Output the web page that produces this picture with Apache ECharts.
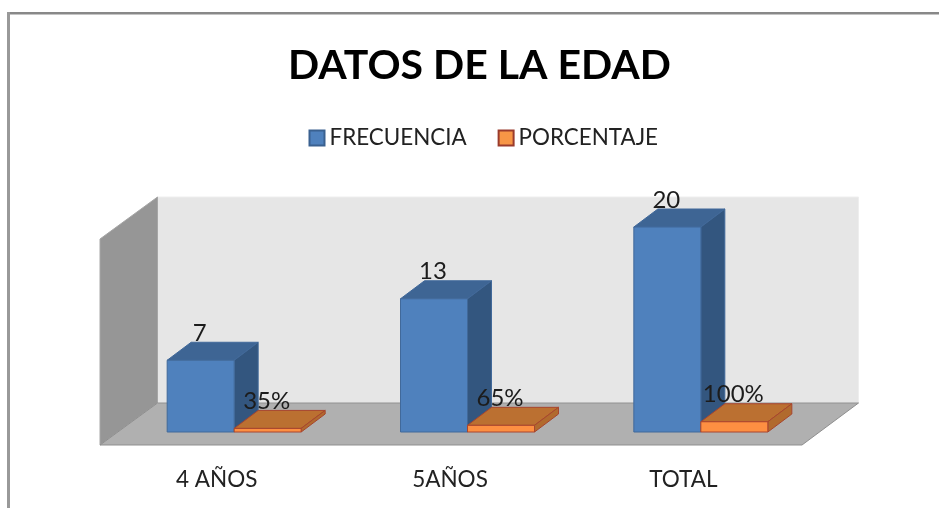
<!DOCTYPE html>
<html><head><meta charset="utf-8">
<style>html,body{margin:0;padding:0;background:#fff}#c{width:939px;height:508px}</style>
<script src="https://cdn.jsdelivr.net/npm/echarts@6/dist/echarts.min.js"></script>
</head><body><div id="c"></div>
<script>
const categories = ['4 AÑOS', '5AÑOS', 'TOTAL'];
const frecuencia = [7, 13, 20];
const porcentaje = [0.35, 0.65, 1];
const FONT = 'Lato';
const DX = 24, DY = -18, BAR = 67;
const WALL = { dxFront: -17.5, dyFront: 13, dxBack: 40, dyBack: -29, extraFront: 2 };

function pts(a) { return { points: a }; }
function box(api, x0, base, top, c, labelText) {
  const x1 = x0 + BAR;
  const line = { stroke: c.border, lineWidth: 1, lineJoin: 'round' };
  return {
    type: 'group',
    children: [
      { type: 'polygon', shape: pts([[x0, top], [x1, top], [x1 + DX, top + DY], [x0 + DX, top + DY]]), style: { fill: c.top, ...line } },
      { type: 'polygon', shape: pts([[x1, top], [x1 + DX, top + DY], [x1 + DX, base + DY], [x1, base]]), style: { fill: c.side, ...line } },
      { type: 'rect', shape: { x: x0, y: top, width: BAR, height: base - top }, style: { fill: c.front, ...line } },
      { type: 'text', z2: 100, style: { text: labelText, x: x0 + BAR / 2 - 1, y: top - 27, align: 'center', verticalAlign: 'middle', font: '24px ' + FONT, fill: '#1c1c1c' } }
    ]
  };
}
function barSeries(name, values, side, c, fmt, z) {
  return {
    name, type: 'custom', z, clip: false,
    itemStyle: { color: c.front, borderColor: c.border },
    data: values.map((v, i) => [i, v]),
    renderItem(p, api) {
      const pt = api.coord([api.value(0), api.value(1)]);
      const base = api.coord([api.value(0), 0])[1];
      return box(api, side < 0 ? pt[0] - BAR : pt[0], base, pt[1], c, fmt(api.value(1)));
    }
  };
}
const blue = { front: '#4f81bd', top: '#3e6594', side: '#33567f', border: '#41699a' };
const orange = { front: '#fd8f42', top: '#bb7031', side: '#b16a2e', border: '#a8452e' };

const option = {
  animation: false,
  backgroundColor: '#fff',
  title: { text: 'DATOS DE LA EDAD', left: 474.5, top: 40, textAlign: 'center',
    textStyle: { fontFamily: FONT, fontWeight: 'bold', fontSize: 41, color: '#000' } },
  legend: { left: 303.5, top: 122, itemWidth: 15, itemHeight: 15, itemGap: 31,
    textStyle: { fontFamily: FONT, fontSize: 22.4, color: '#222' },
    data: [
      { name: 'FRECUENCIA', icon: 'rect', itemStyle: { color: blue.front, borderColor: '#3a6190', borderWidth: 2 } },
      { name: 'PORCENTAJE', icon: 'rect', itemStyle: { color: '#f79646', borderColor: '#9a3b2c', borderWidth: 2 } }
    ] },
  grid: { left: 117.5, width: 700, top: 227, height: 205 },
  xAxis: { type: 'category', data: categories,
    axisLine: { show: false }, axisTick: { show: false }, splitLine: { show: false },
    axisLabel: { fontFamily: FONT, fontSize: 22.5, color: '#222', margin: 36, padding: [0, 35, 0, 0] } },
  yAxis: { type: 'value', min: 0, max: 20, show: false },
  series: [
    { type: 'custom', z: 1, clip: false, silent: true, data: [[0]],
      renderItem(p) {
        const g = p.coordSys, b = g.y + g.height, l = g.x, r = g.x + g.width;
        const f = { l: l + WALL.dxFront, r: r + WALL.dxFront + WALL.extraFront, y: b + WALL.dyFront };
        const k = { l: l + WALL.dxBack, r: r + WALL.dxBack + 1, y: b + WALL.dyBack };
        const topBack = 197, wallH = k.y - topBack;
        return { type: 'group', children: [
          { type: 'polygon', shape: pts([[k.l, topBack], [k.r, topBack], [k.r, k.y], [k.l, k.y]]), style: { fill: '#e6e6e6', stroke: '#eeeeee', lineWidth: 1 } },
          { type: 'polygon', shape: pts([[f.l, f.y - wallH], [k.l, topBack], [k.l, k.y], [f.l, f.y]]), style: { fill: '#969696', stroke: '#a6a6a6', lineWidth: 1 } },
          { type: 'polygon', shape: pts([[f.l, f.y], [f.r, f.y], [k.r, k.y], [k.l, k.y]]), style: { fill: '#b0b0b0', stroke: '#8f8f8f', lineWidth: 1 } }
        ] };
      } },
    barSeries('FRECUENCIA', frecuencia, -1, blue, v => String(v), 2),
    barSeries('PORCENTAJE', porcentaje, 1, orange, v => Math.round(v * 100) + '%', 3)
  ],
  graphic: [
    { type: 'rect', shape: { x: 7, y: 12, width: 932, height: 2 }, style: { fill: '#888888' }, silent: true },
    { type: 'rect', shape: { x: 7, y: 14, width: 932, height: 1 }, style: { fill: '#c4c4c4' }, silent: true },
    { type: 'rect', shape: { x: 7, y: 12, width: 3, height: 496 }, style: { fill: '#999999' }, silent: true }
  ]
};
echarts.init(document.getElementById('c'), null, { renderer: 'canvas' }).setOption(option);
</script></body></html>
